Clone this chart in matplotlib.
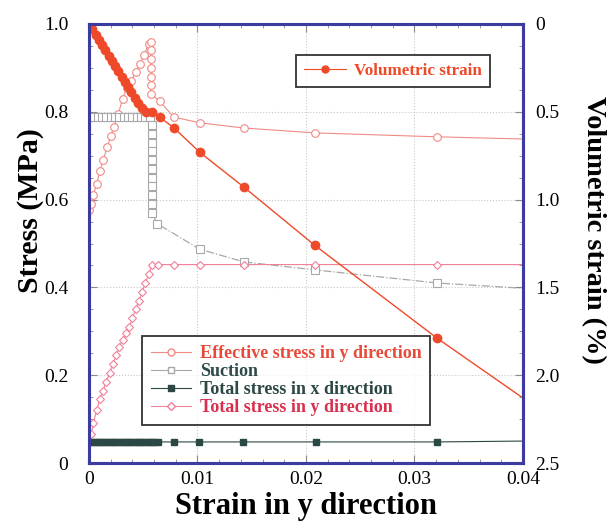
import matplotlib
matplotlib.use("Agg")
import matplotlib.pyplot as plt
from matplotlib.lines import Line2D
from matplotlib.ticker import MultipleLocator

plt.rcParams['font.family'] = ['Liberation Serif', 'DejaVu Serif']

# Volumetric strain (%), right axis
vol_x = [0, 0.0003, 0.0006, 0.0009, 0.0012, 0.0015, 0.0018, 0.0021, 0.0024, 0.0027,
         0.0030, 0.0033, 0.0036, 0.0039, 0.0042, 0.0045, 0.0049, 0.0053, 0.0058, 0.0065,
         0.0078, 0.0102, 0.0143, 0.0208, 0.0321]
vol = [0, 0.03, 0.06, 0.09, 0.12, 0.15, 0.18, 0.21, 0.24, 0.27,
       0.30, 0.33, 0.36, 0.39, 0.42, 0.45, 0.48, 0.50, 0.50, 0.53,
       0.59, 0.73, 0.93, 1.26, 1.79]
vol_trend_x = [0.0321, 0.04]
vol_trend = [1.79, 2.13]

# Effective stress in y direction (MPa)
eff_x = [0, 0.0002, 0.0004, 0.0007, 0.0010, 0.0013, 0.0017, 0.0020, 0.0023, 0.0027,
         0.0031, 0.0035, 0.0039, 0.0043, 0.0047, 0.0051, 0.0055,
         0.0057, 0.0057, 0.0057, 0.0057, 0.0057, 0.0057, 0.0057,
         0.0065, 0.0078, 0.0102, 0.0143, 0.0208, 0.0321, 0.04]
eff = [0.576, 0.59, 0.61, 0.635, 0.665, 0.69, 0.72, 0.745, 0.765, 0.795,
       0.83, 0.855, 0.87, 0.89, 0.91, 0.93, 0.955,
       0.96, 0.94, 0.92, 0.90, 0.88, 0.86, 0.84,
       0.825, 0.788, 0.775, 0.763, 0.752, 0.743, 0.738]

# Suction (MPa)
suc_x = [0, 0.0004, 0.0008, 0.0012, 0.0016, 0.0020, 0.0024, 0.0028, 0.0032, 0.0036,
         0.0040, 0.0044, 0.0048, 0.0052, 0.0056,
         0.0058, 0.0058, 0.0058, 0.0058, 0.0058, 0.0058, 0.0058, 0.0058, 0.0058,
         0.0058, 0.0058, 0.0063, 0.0102, 0.0143, 0.0208, 0.0321, 0.04]
suc = [0.788, 0.788, 0.788, 0.788, 0.788, 0.788, 0.788, 0.788, 0.788, 0.788,
       0.788, 0.788, 0.788, 0.788, 0.788,
       0.77, 0.75, 0.73, 0.71, 0.69, 0.67, 0.65, 0.63, 0.61,
       0.59, 0.57, 0.545, 0.487, 0.458, 0.44, 0.41, 0.398]

# Total stress in x direction (MPa)
totx_x = [0, 0.0003, 0.0006, 0.0009, 0.0012, 0.0015, 0.0018, 0.0021, 0.0024, 0.0027,
          0.0030, 0.0033, 0.0036, 0.0039, 0.0042, 0.0045, 0.0048, 0.0051, 0.0054, 0.0057,
          0.0060, 0.0064, 0.0078, 0.0101, 0.0142, 0.0209, 0.0321, 0.04]
totx = [0.048] * 27 + [0.05]

# Total stress in y direction (MPa)
toty_x = [0, 0.0002, 0.0004, 0.0007, 0.0010, 0.0013, 0.0016, 0.0019, 0.0022, 0.0025,
          0.0028, 0.0031, 0.0034, 0.0037, 0.0040, 0.0043, 0.0046, 0.0049, 0.0052, 0.0055,
          0.0058, 0.0064, 0.0078, 0.0102, 0.0143, 0.0208, 0.0321, 0.04]
toty = [0.05, 0.065, 0.09, 0.12, 0.145, 0.165, 0.185, 0.205, 0.225, 0.245,
        0.265, 0.28, 0.295, 0.31, 0.33, 0.35, 0.37, 0.39, 0.41, 0.43,
        0.452, 0.452, 0.452, 0.452, 0.452, 0.452, 0.452, 0.452]

legend_labels = ['Effective stress in y direction', 'Suction',
                 'Total stress in x direction', 'Total stress in y direction']

VOL_RED = '#ee4a2a'
EFF_RED = '#f08a86'
SUC_GRAY = '#a8a8a8'
TOTX_DARK = '#2c4844'
TOTY_PINK = '#f0809a'
SPINE_BLUE = '#3c3ca0'

fig = plt.figure(figsize=(6.15, 5.24), dpi=100)
ax = fig.add_axes([0.1447, 0.1164, 0.7057, 0.8378])
ax2 = ax.twinx()

ax.set_xlim(0, 0.04)
ax.set_ylim(0, 1.0)
ax2.set_ylim(2.5, 0)

ax.grid(True, color='#c8c8c8', linestyle=':', linewidth=0.8)

n = len(eff_x)
ax.plot(eff_x, eff, color=EFF_RED, lw=0.8, marker='o', ms=5.5, mfc='white',
        mec=EFF_RED, mew=0.8, markevery=list(range(n - 1)))
n = len(suc_x)
ax.plot(suc_x, suc, color=SUC_GRAY, lw=0.9, ls='-.', marker='s', ms=5.5, mfc='white',
        mec=SUC_GRAY, mew=0.8, markevery=list(range(n - 1)))
n = len(toty_x)
ax.plot(toty_x, toty, color=TOTY_PINK, lw=0.8, marker='D', ms=4, mfc='white',
        mec=TOTY_PINK, mew=0.8, markevery=list(range(n - 1)))
n = len(totx_x)
ax.plot(totx_x, totx, color=TOTX_DARK, lw=0.8, marker='s', ms=5, mfc=TOTX_DARK,
        mec=TOTX_DARK, markevery=list(range(n - 1)))

ax2.plot(vol_x, vol, color=VOL_RED, lw=1.0, marker='o', ms=6, mfc=VOL_RED, mec=VOL_RED)
ax2.plot(vol_trend_x, vol_trend, color=VOL_RED, lw=1.0)

# Axis styling
for a in (ax, ax2):
    for side in a.spines.values():
        side.set_color(SPINE_BLUE)
        side.set_linewidth(2.2)

ax.xaxis.set_major_locator(MultipleLocator(0.01))
ax.xaxis.set_minor_locator(MultipleLocator(0.002))
ax.yaxis.set_major_locator(MultipleLocator(0.2))
ax.yaxis.set_minor_locator(MultipleLocator(0.05))
ax2.yaxis.set_major_locator(MultipleLocator(0.5))
ax2.yaxis.set_minor_locator(MultipleLocator(0.125))

ax.tick_params(which='both', direction='in', top=True, color='#888888', labelsize=14)
ax.tick_params(axis='x', pad=6)
ax.tick_params(axis='y', pad=15)
ax.tick_params(which='major', length=6)
ax.tick_params(which='minor', length=3)
ax2.tick_params(which='both', direction='in', color='#888888', labelsize=14, pad=9)
ax2.tick_params(which='major', length=6)
ax2.tick_params(which='minor', length=3)

ax.set_xticks([0, 0.01, 0.02, 0.03, 0.04])
ax.set_xticklabels(['0', '0.01', '0.02', '0.03', '0.04'])
ax.set_yticks([0, 0.2, 0.4, 0.6, 0.8, 1.0])
ax.set_yticklabels(['0', '0.2', '0.4', '0.6', '0.8', '1.0'])
ax2.set_yticks([0, 0.5, 1.0, 1.5, 2.0, 2.5])
ax2.set_yticklabels(['0', '0.5', '1.0', '1.5', '2.0', '2.5'])

ax.set_xlabel('Strain in y direction', fontsize=22, fontweight='bold')
ax.xaxis.set_label_coords(0.5, -0.065, transform=ax.transAxes)
ax.xaxis.label.set_va('top')
ax.set_ylabel('Stress (MPa)', fontsize=21.5, fontweight='bold')
ax.yaxis.set_label_coords(-0.103, 0.574)
ax2.set_ylabel('Volumetric strain (%)', fontsize=20.5, fontweight='bold', rotation=270)
ax2.yaxis.set_label_coords(1.163, 0.531)
ax2.yaxis.label.set_va('center')

# Legends
h_vol = [Line2D([], [], color=VOL_RED, lw=0.8, marker='o', ms=5, mfc=VOL_RED, mec=VOL_RED)]
leg1 = ax2.legend(h_vol, ['Volumetric strain'], loc='upper left',
                  bbox_to_anchor=(0.477, 0.929), borderaxespad=0, frameon=True,
                  fancybox=False, edgecolor='black',
                  prop={'weight': 'bold', 'size': 12.3},
                  labelcolor=[VOL_RED], handlelength=2.5, borderpad=0.45,
                  handletextpad=0.47)
leg1.get_frame().set_linewidth(1.3)

h_stress = [
    Line2D([], [], color=EFF_RED, lw=0.8, marker='o', ms=5, mfc='white', mec=EFF_RED),
    Line2D([], [], color=SUC_GRAY, lw=0.8, marker='s', ms=5, mfc='white', mec=SUC_GRAY),
    Line2D([], [], color=TOTX_DARK, lw=0.8, marker='s', ms=5, mfc=TOTX_DARK, mec=TOTX_DARK),
    Line2D([], [], color=TOTY_PINK, lw=0.8, marker='D', ms=4, mfc='white', mec=TOTY_PINK),
]
leg2 = ax2.legend(h_stress, legend_labels,
                  loc='lower left', bbox_to_anchor=(0.122, 0.0866), borderaxespad=0,
                  frameon=True, fancybox=False, edgecolor='black',
                  prop={'weight': 'bold', 'size': 13},
                  labelcolor=['#e84a3a', '#2f4a4a', '#2c4844', '#d8304e'],
                  handlelength=2.2, borderpad=0.5, labelspacing=0.05,
                  handletextpad=0.5)
leg2.get_frame().set_linewidth(1.3)
ax2.add_artist(leg1)

fig.savefig('out.png', dpi=100, facecolor='white')
